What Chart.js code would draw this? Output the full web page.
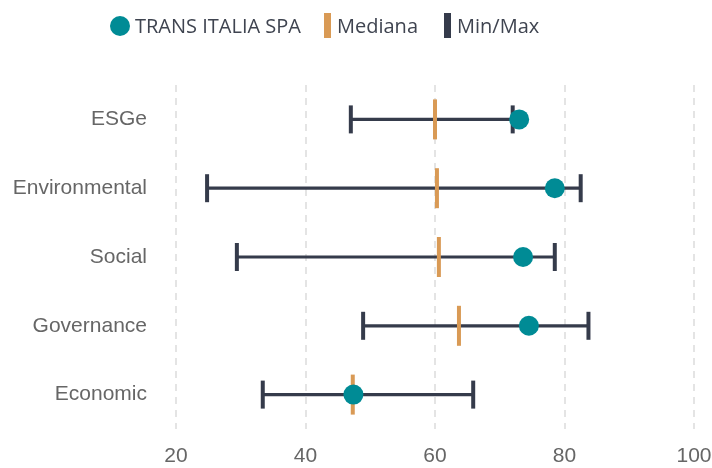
<!DOCTYPE html>
<html>
<head>
<meta charset="utf-8">
<script src="https://cdn.jsdelivr.net/npm/chart.js@4"></script>
<style>
  body { margin: 0; background: #fff; }
  #wrap { position: relative; width: 712px; height: 468px; }
  .legenda { position: absolute; left: 110px; top: 13px; height: 25px; display: flex; align-items: center;
    font-family: "Open Sans", sans-serif; font-size: 20px; color: #3f4450; }
  .legenda span { line-height: 25px; }
  .ponto { width: 20px; height: 20px; border-radius: 50%; background: #008b95; margin-right: 5px; }
  .barra { width: 7px; height: 25px; margin-right: 6px; }
</style>
</head>
<body>
<div id="wrap">
  <canvas id="grafico" width="712" height="468"></canvas>
  <div class="legenda">
    <div class="ponto"></div><span>TRANS ITALIA SPA</span>
    <div class="barra" style="background:#d99a55; margin-left:23px"></div><span>Mediana</span>
    <div class="barra" style="background:#353b4b; margin-left:26px"></div><span>Min/Max</span>
  </div>
</div>
<script>
// Dados
const categorias = ["ESGe", "Environmental", "Social", "Governance", "Economic"];
const empresa = [73.0, 78.5, 73.6, 74.5, 47.4];
const mediana = [60.0, 60.3, 60.6, 63.7, 47.3];
const minimos = [47.0, 24.8, 29.4, 48.9, 33.4];
const maximos = [72.0, 82.5, 78.5, 83.7, 65.9];
const ticksX = [20, 40, 60, 80, 100];

const corEmpresa = "#008b95";
const corMediana = "#d99a55";
const corMinMax = "#353b4b";

const pontos = (vals) => vals.map((v, i) => ({ x: v, y: categorias[i] }));

new Chart(document.getElementById("grafico"), {
  type: "bar",
  data: {
    labels: categorias,
    datasets: [
      {
        type: "scatter",
        label: "TRANS ITALIA SPA",
        data: pontos(empresa),
        pointStyle: "circle",
        radius: 10,
        backgroundColor: corEmpresa,
        borderColor: corEmpresa,
        borderWidth: 0,
        order: 0
      },
      {
        type: "scatter",
        label: "Mediana",
        data: pontos(mediana),
        pointStyle: "line",
        rotation: 90,
        radius: 20,
        borderWidth: 4,
        borderColor: corMediana,
        order: 1
      },
      {
        type: "scatter",
        label: "Min/Max",
        data: pontos(minimos).concat(pontos(maximos)),
        pointStyle: "line",
        rotation: 90,
        radius: 14,
        borderWidth: 4,
        borderColor: corMinMax,
        order: 2
      },
      {
        label: "intervalo",
        data: categorias.map((c, i) => [minimos[i], maximos[i]]),
        backgroundColor: corMinMax,
        barThickness: 2.5,
        order: 3
      }
    ]
  },
  options: {
    indexAxis: "y",
    responsive: false,
    animation: false,
    layout: { autoPadding: false, padding: { top: 85, right: 18, left: 0, bottom: 0 } },
    plugins: { legend: { display: false }, tooltip: { enabled: false } },
    scales: {
      x: {
        type: "linear",
        min: 20,
        max: 100,
        afterBuildTicks: (s) => { s.ticks = ticksX.map(v => ({ value: v })); },
        afterFit: (s) => { s.height = 39; s.paddingLeft = 0; s.paddingRight = 0; },
        grid: { color: "#e4e4e4", lineWidth: 2, drawTicks: false },
        border: { display: false, dash: [7, 6] },
        ticks: { padding: 15, color: "#666", font: { family: "'Liberation Sans', Arial", size: 21 } }
      },
      y: {
        type: "category",
        afterFit: (s) => { s.width = 176; s.paddingTop = 0; s.paddingBottom = 0; },
        grid: { display: false, drawTicks: false },
        border: { display: false },
        ticks: { padding: 29, color: "#666", font: { family: "'Liberation Sans', Arial", size: 21 } }
      }
    }
  }
});
</script>
</body>
</html>
